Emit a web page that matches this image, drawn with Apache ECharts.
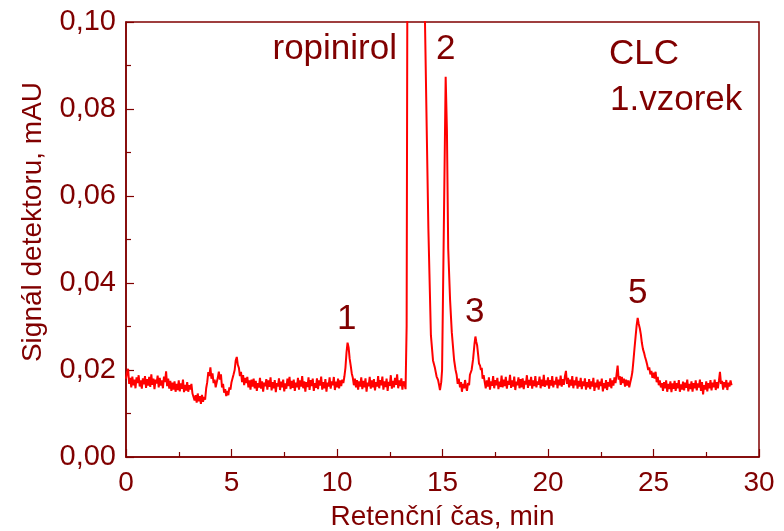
<!DOCTYPE html>
<html>
<head>
<meta charset="utf-8">
<script src="https://cdn.jsdelivr.net/npm/echarts@6/dist/echarts.min.js"></script>
<style>
html,body{margin:0;padding:0;background:#fff;}
#c{width:784px;height:531px;}
</style>
</head>
<body>
<div id="c"></div>
<script>
// ---- data ----
const xTitle = 'Retenční čas, min';
const yTitle = 'Signál detektoru, mAU';
const xTicks = [0, 5, 10, 15, 20, 25, 30];
const yTicks = ['0,00', '0,02', '0,04', '0,06', '0,08', '0,10'];
const peakLabels = ['ropinirol', '2', '1', '3', '5'];
const sampleLabels = ['CLC', '1.vzorek'];

// retention time (min), detector signal (mAU)
const traceStart = [
[0.00,.0180],[0.05,.0195],[0.10,.0203],[0.15,.0168],[0.20,.0182],[0.25,.0160],[0.30,.0185],[0.35,.0165],[0.40,.0178],[0.45,.0158],
[0.50,.0183],[0.55,.0170],[0.60,.0188],[0.65,.0162],[0.70,.0176],[0.75,.0157],[0.80,.0181],[0.85,.0167],[0.90,.0186],[0.95,.0159],
[1.00,.0179],[1.05,.0164],[1.10,.0184],[1.15,.0161],[1.20,.0190],[1.25,.0166],[1.30,.0180],[1.35,.0156],[1.40,.0178],[1.45,.0169],
[1.50,.0187],[1.55,.0160],[1.60,.0182],[1.65,.0164],[1.70,.0176],[1.75,.0158],[1.80,.0185],[1.85,.0172],[1.90,.0197],[1.95,.0163],
[2.00,.0180],[2.05,.0157],[2.10,.0175],[2.15,.0152],[2.20,.0171],[2.25,.0155],[2.30,.0174],[2.35,.0150],[2.40,.0168],[2.45,.0154],
[2.50,.0176],[2.55,.0151],[2.60,.0169],[2.65,.0157],[2.70,.0178],[2.75,.0149],[2.80,.0166],[2.85,.0153],[2.90,.0172],[2.95,.0150],
[3.00,.0165],[3.05,.0155],[3.10,.0168],[3.15,.0146],[3.20,.0150],[3.25,.0130],[3.30,.0142],[3.35,.0125],[3.40,.0146],[3.45,.0128],
[3.50,.0140],[3.55,.0122],[3.60,.0143],[3.65,.0127],[3.70,.0138],[3.75,.0132],[3.80,.0158],[3.85,.0172],[3.90,.0195],[3.95,.0186],
[4.00,.0206],[4.05,.0180],[4.10,.0192],[4.15,.0170],[4.20,.0178],[4.25,.0160],[4.30,.0172],[4.35,.0182],[4.40,.0196],[4.45,.0178],
[4.50,.0190],[4.55,.0160],[4.60,.0168],[4.65,.0148],[4.70,.0156],[4.75,.0140],[4.80,.0152],[4.85,.0142],[4.90,.0160],[4.95,.0155],
[5.00,.0172],[5.05,.0168],[5.10,.0190],[5.15,.0200],[5.20,.0222],[5.25,.0230],[5.30,.0212],[5.35,.0205],[5.40,.0186],[5.45,.0196],
[5.50,.0172],[5.55,.0188],[5.60,.0165],[5.65,.0182],[5.70,.0170],[5.75,.0184],[5.80,.0160],[5.85,.0176],[5.90,.0155],[5.95,.0178]
];
const traceMid = [
[6.00,.0162],[6.05,.0180],[6.10,.0158],[6.15,.0175],[6.20,.0152],[6.25,.0170],[6.30,.0160],[6.35,.0182],[6.40,.0157],[6.45,.0174],
[6.50,.0150],[6.55,.0171],[6.60,.0163],[6.65,.0179],[6.70,.0155],[6.75,.0176],[6.80,.0161],[6.85,.0183],[6.90,.0153],[6.95,.0172],
[7.00,.0158],[7.05,.0177],[7.10,.0149],[7.15,.0170],[7.20,.0162],[7.25,.0181],[7.30,.0154],[7.35,.0173],[7.40,.0160],[7.45,.0178],
[7.50,.0151],[7.55,.0169],[7.60,.0157],[7.65,.0180],[7.70,.0163],[7.75,.0184],[7.80,.0156],[7.85,.0175],[7.90,.0159],[7.95,.0178],
[8.00,.0152],[8.05,.0171],[8.10,.0160],[8.15,.0182],[8.20,.0155],[8.25,.0176],[8.30,.0162],[8.35,.0186],[8.40,.0158],[8.45,.0174],
[8.50,.0150],[8.55,.0172],[8.60,.0161],[8.65,.0183],[8.70,.0154],[8.75,.0177],[8.80,.0163],[8.85,.0180],[8.90,.0152],[8.95,.0170],
[9.00,.0159],[9.05,.0181],[9.10,.0156],[9.15,.0176],[9.20,.0164],[9.25,.0185],[9.30,.0155],[9.35,.0172],[9.40,.0158],[9.45,.0179],
[9.50,.0150],[9.55,.0171],[9.60,.0162],[9.65,.0183],[9.70,.0157],[9.75,.0174],[9.80,.0165],[9.85,.0184],[9.90,.0154],[9.95,.0173],
[10.00,.0160],[10.05,.0180],[10.10,.0158],[10.15,.0176],[10.20,.0163],[10.25,.0178],[10.30,.0170],[10.35,.0185],[10.40,.0205],[10.45,.0240],
[10.50,.0263],[10.55,.0252],[10.60,.0226],[10.65,.0210],[10.70,.0192],[10.75,.0182],[10.80,.0165],[10.85,.0180],[10.90,.0160],[10.95,.0177],
[11.00,.0155],[11.05,.0174],[11.10,.0162],[11.15,.0183],[11.20,.0156],[11.25,.0175],[11.30,.0160],[11.35,.0181],[11.40,.0150],[11.45,.0171],
[11.50,.0163],[11.55,.0184],[11.60,.0157],[11.65,.0176],[11.70,.0160],[11.75,.0179],[11.80,.0153],[11.85,.0172],[11.90,.0162],[11.95,.0186],
[12.00,.0158],[12.05,.0177],[12.10,.0165],[12.15,.0185],[12.20,.0155],[12.25,.0174],[12.30,.0161],[12.35,.0180],[12.40,.0152],[12.45,.0173],
[12.50,.0164],[12.55,.0188],[12.60,.0157],[12.65,.0175],[12.70,.0160],[12.75,.0182],[12.80,.0166],[12.85,.0190],[12.90,.0158],[12.95,.0176],
[13.00,.0163],[13.05,.0181],[13.10,.0155],[13.15,.0174],[13.20,.0168],[13.25,.0156]
];
const traceMainPeaks = [
[13.30,.0300],[13.34,.1200],[13.45,.3000],[13.75,.4000],[14.05,.2500],[14.17,.1000],[14.25,.0760],[14.33,.0526],[14.45,.0280],[14.55,.0222],
[14.64,.0205],[14.72,.0185],[14.79,.0177],[14.84,.0165],[14.88,.0154],[14.94,.0172],[14.98,.0200],[15.05,.0476],[15.15,.0874],[15.21,.0750],
[15.27,.0480],[15.36,.0360],[15.44,.0287],[15.55,.0223],[15.62,.0200],[15.67,.0189],[15.72,.0168],[15.77,.0180],[15.83,.0160],[15.88,.0172],
[15.92,.0150],[15.97,.0168],[16.02,.0158],[16.07,.0177],[16.12,.0160],[16.16,.0152],[16.21,.0170],[16.26,.0165],[16.30,.0189],[16.38,.0200],
[16.45,.0225],[16.52,.0262],[16.56,.0277],[16.60,.0265],[16.64,.0257],[16.70,.0230],[16.73,.0215],[16.78,.0210],[16.82,.0200],[16.86,.0205],
[16.90,.0180],[16.95,.0188]
];
const traceEnd = [
[17.00,.0172],[17.05,.0158],[17.10,.0176],[17.15,.0162],[17.20,.0183],[17.25,.0155],[17.30,.0174],[17.35,.0164],[17.40,.0186],[17.45,.0158],
[17.50,.0177],[17.55,.0165],[17.60,.0182],[17.65,.0156],[17.70,.0173],[17.75,.0161],[17.80,.0187],[17.85,.0160],[17.90,.0178],[17.95,.0163],
[18.00,.0184],[18.05,.0157],[18.10,.0175],[18.15,.0166],[18.20,.0189],[18.25,.0159],[18.30,.0176],[18.35,.0162],[18.40,.0185],[18.45,.0154],
[18.50,.0173],[18.55,.0165],[18.60,.0183],[18.65,.0158],[18.70,.0179],[18.75,.0160],[18.80,.0181],[18.85,.0156],[18.90,.0175],[18.95,.0167],
[19.00,.0188],[19.05,.0159],[19.10,.0177],[19.15,.0164],[19.20,.0184],[19.25,.0157],[19.30,.0176],[19.35,.0163],[19.40,.0186],[19.45,.0160],
[19.50,.0174],[19.55,.0166],[19.60,.0185],[19.65,.0158],[19.70,.0178],[19.75,.0163],[19.80,.0189],[19.85,.0161],[19.90,.0176],[19.95,.0165],
[20.00,.0183],[20.05,.0157],[20.10,.0177],[20.15,.0164],[20.20,.0186],[20.25,.0160],[20.30,.0175],[20.35,.0167],[20.40,.0184],[20.45,.0158],
[20.50,.0178],[20.55,.0165],[20.60,.0187],[20.65,.0162],[20.70,.0179],[20.75,.0166],[20.80,.0185],[20.85,.0198],[20.90,.0168],[20.95,.0182],
[21.00,.0160],[21.05,.0178],[21.10,.0164],[21.15,.0186],[21.20,.0158],[21.25,.0176],[21.30,.0165],[21.35,.0184],[21.40,.0157],[21.45,.0175],
[21.50,.0162],[21.55,.0182],[21.60,.0156],[21.65,.0174],[21.70,.0163],[21.75,.0181],[21.80,.0155],[21.85,.0172],[21.90,.0160],[21.95,.0179],
[22.00,.0156],[22.05,.0174],[22.10,.0162],[22.15,.0182],[22.20,.0152],[22.25,.0171],[22.30,.0160],[22.35,.0178],[22.40,.0155],[22.45,.0173],
[22.50,.0163],[22.55,.0180],[22.60,.0151],[22.65,.0170],[22.70,.0158],[22.75,.0177],[22.80,.0154],[22.85,.0172],[22.90,.0162],[22.95,.0181],
[23.00,.0158],[23.05,.0176],[23.10,.0164],[23.15,.0183],[23.20,.0170],[23.25,.0190],[23.30,.0210],[23.35,.0178],[23.40,.0186],[23.45,.0166],
[23.50,.0184],[23.55,.0170],[23.60,.0180],[23.65,.0162],[23.70,.0178],[23.75,.0164],[23.80,.0176],[23.85,.0160],[23.90,.0172],[23.95,.0182],
[24.00,.0196],[24.05,.0222],[24.10,.0250],[24.15,.0276],[24.20,.0302],[24.25,.0320],[24.30,.0306],[24.35,.0296],[24.40,.0282],[24.45,.0262],
[24.50,.0248],[24.55,.0240],[24.60,.0230],[24.65,.0222],[24.70,.0212],[24.75,.0200],[24.80,.0206],[24.85,.0190],[24.90,.0198],[24.95,.0182],
[25.00,.0194],[25.05,.0180],[25.10,.0196],[25.15,.0172],[25.20,.0184],[25.25,.0165],[25.30,.0176],[25.35,.0160],[25.40,.0170],[25.45,.0152],
[25.50,.0172],[25.55,.0158],[25.60,.0176],[25.65,.0150],[25.70,.0168],[25.75,.0156],[25.80,.0174],[25.85,.0149],[25.90,.0169],[25.95,.0157],
[26.00,.0175],[26.05,.0152],[26.10,.0170],[26.15,.0158],[26.20,.0177],[26.25,.0150],[26.30,.0167],[26.35,.0155],[26.40,.0173],[26.45,.0153],
[26.50,.0171],[26.55,.0159],[26.60,.0178],[26.65,.0151],[26.70,.0168],[26.75,.0156],[26.80,.0174],[26.85,.0150],[26.90,.0170],[26.95,.0158],
[27.00,.0176],[27.05,.0153],[27.10,.0169],[27.15,.0160],[27.20,.0178],[27.25,.0152],[27.30,.0172],[27.35,.0144],[27.40,.0165],[27.45,.0155],
[27.50,.0174],[27.55,.0151],[27.60,.0170],[27.65,.0158],[27.70,.0177],[27.75,.0153],[27.80,.0171],[27.85,.0160],[27.90,.0178],[27.95,.0154],
[28.00,.0172],[28.05,.0158],[28.10,.0175],[28.15,.0196],[28.20,.0168],[28.25,.0175],[28.30,.0155],[28.35,.0172],[28.40,.0160],[28.45,.0177],
[28.50,.0154],[28.55,.0171],[28.60,.0162],[28.65,.0176],[28.70,.0165]
];
const trace = traceStart.concat(traceMid, traceMainPeaks, traceEnd);

// ---- chart ----
const dark = '#800000';
const font = '"Liberation Sans", Arial, sans-serif';
const chart = echarts.init(document.getElementById('c'), null, {renderer: 'canvas'});

const axisCommon = {
  axisLine: {show: true, lineStyle: {color: dark, width: 1.5}},
  axisTick: {show: true, inside: true, length: 8, lineStyle: {color: dark, width: 1.2}},
  minorTick: {show: true, splitNumber: 2, length: 5, lineStyle: {color: dark, width: 1.2}},
  splitLine: {show: false},
  minorSplitLine: {show: false}
};

chart.setOption({
  animation: false,
  backgroundColor: '#fff',
  grid: {left: 126, right: 25, top: 22, bottom: 74, containLabel: false, outerBoundsMode: 'none',
    show: true, borderColor: dark, borderWidth: 1.5},
  xAxis: Object.assign({
    type: 'value', min: xTicks[0], max: xTicks[xTicks.length - 1], interval: 5,
    name: xTitle, nameLocation: 'middle', nameGap: 46,
    nameTextStyle: {color: dark, fontSize: 28, fontFamily: font},
    axisLabel: {color: dark, fontSize: 28, fontFamily: font, margin: 12}
  }, axisCommon),
  yAxis: Object.assign({
    type: 'value', min: 0, max: 0.1, interval: 0.02,
    axisLabel: {color: dark, fontSize: 29, fontFamily: font, margin: 10,
      formatter: function (v) { return yTicks[Math.round(v / 0.02)]; }}
  }, axisCommon),
  series: [{
    type: 'line', data: trace, showSymbol: false, clip: true,
    lineStyle: {color: '#ff0000', width: 2}, itemStyle: {color: '#ff0000'}
  }],
  graphic: [
    {type: 'text', x: 33, y: 222, rotation: Math.PI / 2,
      style: {text: yTitle, fill: dark, font: '28px ' + font, align: 'center', verticalAlign: 'middle'}},
    {type: 'text', right: 784 - 397, top: 32, style: {text: peakLabels[0], fill: dark, font: '35px ' + font}},
    {type: 'text', left: 436, top: 32, style: {text: peakLabels[1], fill: dark, font: '35px ' + font}},
    {type: 'text', left: 337, top: 302, style: {text: peakLabels[2], fill: dark, font: '35px ' + font}},
    {type: 'text', left: 465, top: 295, style: {text: peakLabels[3], fill: dark, font: '35px ' + font}},
    {type: 'text', left: 628, top: 276, style: {text: peakLabels[4], fill: dark, font: '35px ' + font}},
    {type: 'text', left: 609, top: 37, style: {text: sampleLabels[0], fill: dark, font: '35px ' + font}},
    {type: 'text', left: 610, top: 83, style: {text: sampleLabels[1], fill: dark, font: '35px ' + font}}
  ]
});
</script>
</body>
</html>
